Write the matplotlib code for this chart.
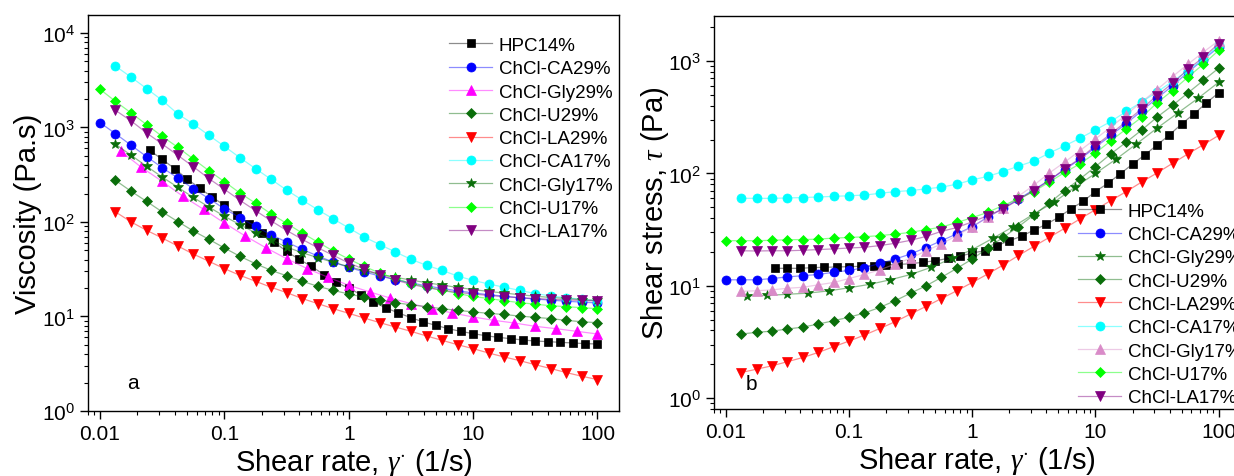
import numpy as np
import matplotlib
matplotlib.use("Agg")
import matplotlib.pyplot as plt
from matplotlib.colors import to_rgba

plt.rcParams['font.family'] = ['Liberation Sans', 'DejaVu Sans']
plt.rcParams['mathtext.fontset'] = 'custom'
plt.rcParams['mathtext.rm'] = 'Liberation Sans'
plt.rcParams['mathtext.it'] = 'Liberation Serif:italic'

# shear rate grids (1/s)
rate8 = [0.01, 0.0133, 0.0178, 0.0237, 0.0316, 0.0422, 0.0562, 0.075, 0.1, 0.133, 0.178,
         0.237, 0.316, 0.422, 0.562, 0.75, 1, 1.33, 1.78, 2.37, 3.16, 4.22, 5.62, 7.5,
         10, 13.3, 17.8, 23.7, 31.6, 42.2, 56.2, 75, 100]
rate6 = [0.0147, 0.0215, 0.0316, 0.0464, 0.0681, 0.1, 0.147, 0.215, 0.316, 0.464, 0.681,
         1, 1.47, 2.15, 3.16, 4.64, 6.81, 10, 14.7, 21.5, 31.6, 46.4, 68.1, 100]
rate10 = [0.0251, 0.0316, 0.0398, 0.0501, 0.0631, 0.0794, 0.1, 0.126, 0.158, 0.2, 0.251,
          0.316, 0.398, 0.501, 0.631, 0.794, 1, 1.26, 1.58, 2, 2.51, 3.16, 3.98, 5.01,
          6.31, 7.94, 10, 12.6, 15.8, 20, 25.1, 31.6, 39.8, 50.1, 63.1, 79.4, 100]

# panel a: viscosity (Pa.s)
hpc_visc = [573, 460, 367, 285, 229, 184, 150, 118, 94.5, 77.1, 61.4, 48.9, 40.3, 34, 27.7,
            23, 19.9, 17, 14.2, 12.3, 10.9, 9.72, 8.75, 8.07, 7.43, 6.97, 6.58, 6.27, 6.02,
            5.83, 5.64, 5.5, 5.42, 5.33, 5.25, 5.16, 5.12]
ca29_visc = [1125, 860, 648, 491, 376, 292, 225, 177, 138, 111, 90, 73.4, 61.4, 51.4, 43.7,
             37.7, 33.1, 29.6, 26.8, 24.5, 22.7, 21.1, 19.8, 18.7, 17.8, 17, 16.4, 15.8,
             15.3, 14.9, 14.5, 14.2, 13.9]
gly29_visc = [560, 379, 269, 187, 136, 97.6, 71.1, 53.5, 40.9, 32.1, 26, 21.4, 18.2, 15.7,
              13.7, 12.1, 10.9, 9.88, 9.11, 8.53, 7.87, 7.43, 6.97, 6.53]
u29_visc = [276, 211, 165, 128, 101, 80.4, 65.6, 53.1, 43.4, 36.2, 30.8, 27, 23.6, 20.9,
            18.9, 17.3, 16, 15, 14, 13.3, 12.7, 12.1, 11.6, 11.2, 10.8, 10.5, 10.1, 9.8,
            9.5, 9.1, 8.8, 8.6]
la29_visc = [128, 100, 81.6, 67.7, 55.7, 45.8, 38.4, 32.1, 27.3, 23.6, 20.4, 17.9, 15.5,
             13.7, 12.1, 10.8, 9.64, 8.6, 7.74, 6.97, 6.22, 5.6, 5.03, 4.57, 4.11, 3.73,
             3.41, 3.09, 2.81, 2.55, 2.33, 2.15]
ca17_visc = [4470, 3400, 2580, 1940, 1390, 1090, 826, 632, 480, 367, 283, 218, 171, 135,
             108, 86.5, 69.4, 57.6, 48.2, 40.3, 34.8, 30.8, 26.8, 24.1, 22.1, 20.4, 18.9,
             17.5, 16.5, 15.8, 15.2, 14.6]
gly17_visc = [664, 508, 388, 299, 233, 182, 144, 115, 93.7, 77.1, 64.5, 54.4, 47.3, 42,
              37.4, 33.7, 30.5, 28, 26, 24.3, 22.8, 21.5, 20.3, 19.3, 18.4, 17.7, 17, 16.4,
              15.9, 15.5, 15.1, 14.8]
u17_visc = [2535, 1890, 1423, 1071, 806, 617, 464, 349, 267, 203, 158, 122, 96.8, 76.5,
            61.4, 49.3, 40.5, 33.9, 28.8, 25.3, 22.3, 20.5, 19, 17.5, 16.3, 15.5, 14.7, 14,
            13.5, 13, 12.7, 12.4, 12.1]
la17_visc = [1520, 1172, 875, 669, 508, 385, 288, 222, 170, 132, 103, 81.6, 65.6, 53.5,
             44.4, 36.8, 31.6, 27.7, 24.3, 21.9, 20.2, 19, 18, 17.3, 16.7, 16.2, 15.8, 15.5,
             15.2, 15, 14.8, 14.6]

# panel b: shear stress (Pa)
hpc_stress = [14.3, 14.3, 14.3, 14.5, 14.6, 14.7, 14.8, 14.9, 15.1, 15.3, 15.5, 15.7, 16.2,
              16.7, 17.5, 18.3, 19.6, 20.5, 22.7, 25.2, 27.6, 31.3, 35.2, 40.7, 48.3, 56.5,
              69, 81.6, 98.8, 121, 146, 179, 220, 276, 339, 424, 523]
ca29_stress = [11.3, 11.3, 11.3, 11.6, 12.0, 12.3, 12.6, 13.2, 13.7, 14.5, 15.8, 17.3, 19.2,
               21.9, 25.2, 29, 33.6, 40.7, 48.9, 59, 71.9, 87, 108, 134, 171, 218, 278, 361,
               467, 603, 795, 1030, 1330]
gly29_stress = [8.16, 8.2, 8.4, 8.6, 9.0, 9.6, 10.3, 11.3, 12.6, 14.6, 17.5, 21, 26.5, 33.6,
                43.6, 55.8, 75.4, 100, 134, 183, 253, 344, 467, 648]
u29_stress = [3.72, 3.85, 3.95, 4.12, 4.29, 4.56, 4.89, 5.25, 5.72, 6.43, 7.37, 8.6, 10,
              11.9, 14.3, 17.3, 21.6, 27, 33.6, 42.7, 54.5, 70.4, 89.5, 115, 149, 190, 243,
              317, 403, 520, 672, 865]
la29_stress = [1.69, 1.81, 1.94, 2.11, 2.30, 2.55, 2.87, 3.22, 3.64, 4.17, 4.79, 5.61, 6.56,
               7.7, 9.04, 10.7, 12.7, 15.3, 18.6, 22.4, 27, 32.5, 39.4, 47.6, 57.3, 69, 83.8,
               101, 123, 149, 180, 218]
ca17_stress = [60.1, 60, 60, 60.5, 61, 61.7, 62.5, 63.3, 64.2, 66.5, 68.9, 70.4, 72.9, 75.5,
               80.2, 87.7, 94, 104, 116, 129, 152, 176, 206, 244, 290, 356, 433, 530, 660,
               820, 1040, 1380]
gly17_stress = [8.92, 9.03, 9.2, 9.5, 9.7, 10.2, 10.7, 11.6, 12.6, 13.9, 15.6, 17.6, 20.5,
                23.6, 28, 33.6, 40.7, 48.9, 62.8, 78.5, 101, 126, 160, 203, 258, 334, 433,
                557, 728, 938, 1200, 1520]
u17_stress = [25.2, 25.2, 25.2, 25.4, 25.7, 25.8, 26, 26.6, 26.9, 27.3, 28, 28.8, 29.9, 31.6,
              33.3, 36.6, 40.4, 45, 51.9, 59.2, 69, 83.8, 102, 122, 152, 195, 249, 316, 425,
              547, 718, 938, 1245]
la17_stress = [20.5, 20.4, 20.5, 20.5, 20.7, 21, 21.3, 21.7, 22, 22.8, 23.9, 25.4, 27.5, 30.5,
               33, 37.1, 42, 48.3, 58.2, 70.4, 86.6, 110, 136, 177, 225, 290, 376, 493, 635,
               842, 1080, 1430]

DKGREEN = '#0a6e0a'

# (label, x, y, color, marker, size)
left_series = [
    ("HPC14%", rate10, hpc_visc, 'black', 's', 6),
    ("ChCl-CA29%", rate8, ca29_visc, 'blue', 'o', 6.5),
    ("ChCl-Gly29%", rate6, gly29_visc, 'magenta', '^', 7),
    ("ChCl-U29%", rate8[1:], u29_visc, DKGREEN, 'D', 5.5),
    ("ChCl-LA29%", rate8[1:], la29_visc, 'red', 'v', 7),
    ("ChCl-CA17%", rate8[1:], ca17_visc, 'cyan', 'o', 6.5),
    ("ChCl-Gly17%", rate8[1:], gly17_visc, DKGREEN, '*', 7.5),
    ("ChCl-U17%", rate8, u17_visc, '#00ff00', 'D', 5.5),
    ("ChCl-LA17%", rate8[1:], la17_visc, 'purple', 'v', 7),
]
right_series = [
    ("HPC14%", rate10, hpc_stress, 'black', 's', 6),
    ("ChCl-CA29%", rate8, ca29_stress, 'blue', 'o', 6.5),
    ("ChCl-Gly29%", rate6, gly29_stress, DKGREEN, '*', 7.5),
    ("ChCl-U29%", rate8[1:], u29_stress, DKGREEN, 'D', 5.5),
    ("ChCl-LA29%", rate8[1:], la29_stress, 'red', 'v', 7),
    ("ChCl-CA17%", rate8[1:], ca17_stress, 'cyan', 'o', 6.5),
    ("ChCl-Gly17%", rate8[1:], gly17_stress, '#d98bc8', '^', 7),
    ("ChCl-U17%", rate8, u17_stress, '#00ff00', 'D', 5.5),
    ("ChCl-LA17%", rate8[1:], la17_stress, 'purple', 'v', 7),
]

W, H = 1234, 477
fig = plt.figure(figsize=(W / 100, H / 100), dpi=100)
ax1 = fig.add_axes([88 / W, 1 - 412 / H, 531 / W, 396 / H])
ax2 = fig.add_axes([714 / W, 1 - 410 / H, 526 / W, 393 / H])


def draw(ax, series):
    for label, x, y, c, m, ms in series:
        ax.plot(x, y, color=to_rgba(c, 0.45), lw=0.9, marker=m, ms=ms,
                mfc=c, mec=c, mew=0.5, label=label)
    ax.set_xscale('log')
    ax.set_yscale('log')
    ax.set_xlim(0.0080, 149)
    ax.set_xticks([0.01, 0.1, 1, 10, 100])
    ax.set_xticklabels(['0.01', '0.1', '1', '10', '100'])
    ax.tick_params(which='both', direction='out', top=False, right=False, labelsize=15)
    ax.tick_params(which='major', length=6, width=1)
    ax.tick_params(which='minor', length=3, width=0.8)
    for sp in ax.spines.values():
        sp.set_linewidth(1.0)
    ax.set_xlabel(r'Shear rate, $\gamma^{\cdot}$ (1/s)', fontsize=21, labelpad=2)


draw(ax1, left_series)
ax1.set_ylim(1, 15500)
ax1.set_ylabel('Viscosity (Pa.s)', fontsize=21, labelpad=0)
ax1.text(0.085, 0.073, 'a', transform=ax1.transAxes, fontsize=15, ha='center', va='center')
ax1.legend(loc='upper left', bbox_to_anchor=(0.68, 0.945), frameon=False, fontsize=13.5,
           borderpad=0, borderaxespad=0, labelspacing=0.33, handlelength=2.3,
           handletextpad=0.35)

draw(ax2, right_series)
ax2.set_ylim(0.80, 2520)
ax2.set_ylabel(r'Shear stress, $\tau$ (Pa)', fontsize=21, labelpad=-2)
ax2.text(0.072, 0.064, 'b', transform=ax2.transAxes, fontsize=15, ha='center', va='center')
ax2.legend(loc='upper left', bbox_to_anchor=(0.692, 0.525), frameon=False, fontsize=13.5,
           borderpad=0, borderaxespad=0, labelspacing=0.33, handlelength=2.3,
           handletextpad=0.35)

fig.savefig('out.png', dpi=100)
